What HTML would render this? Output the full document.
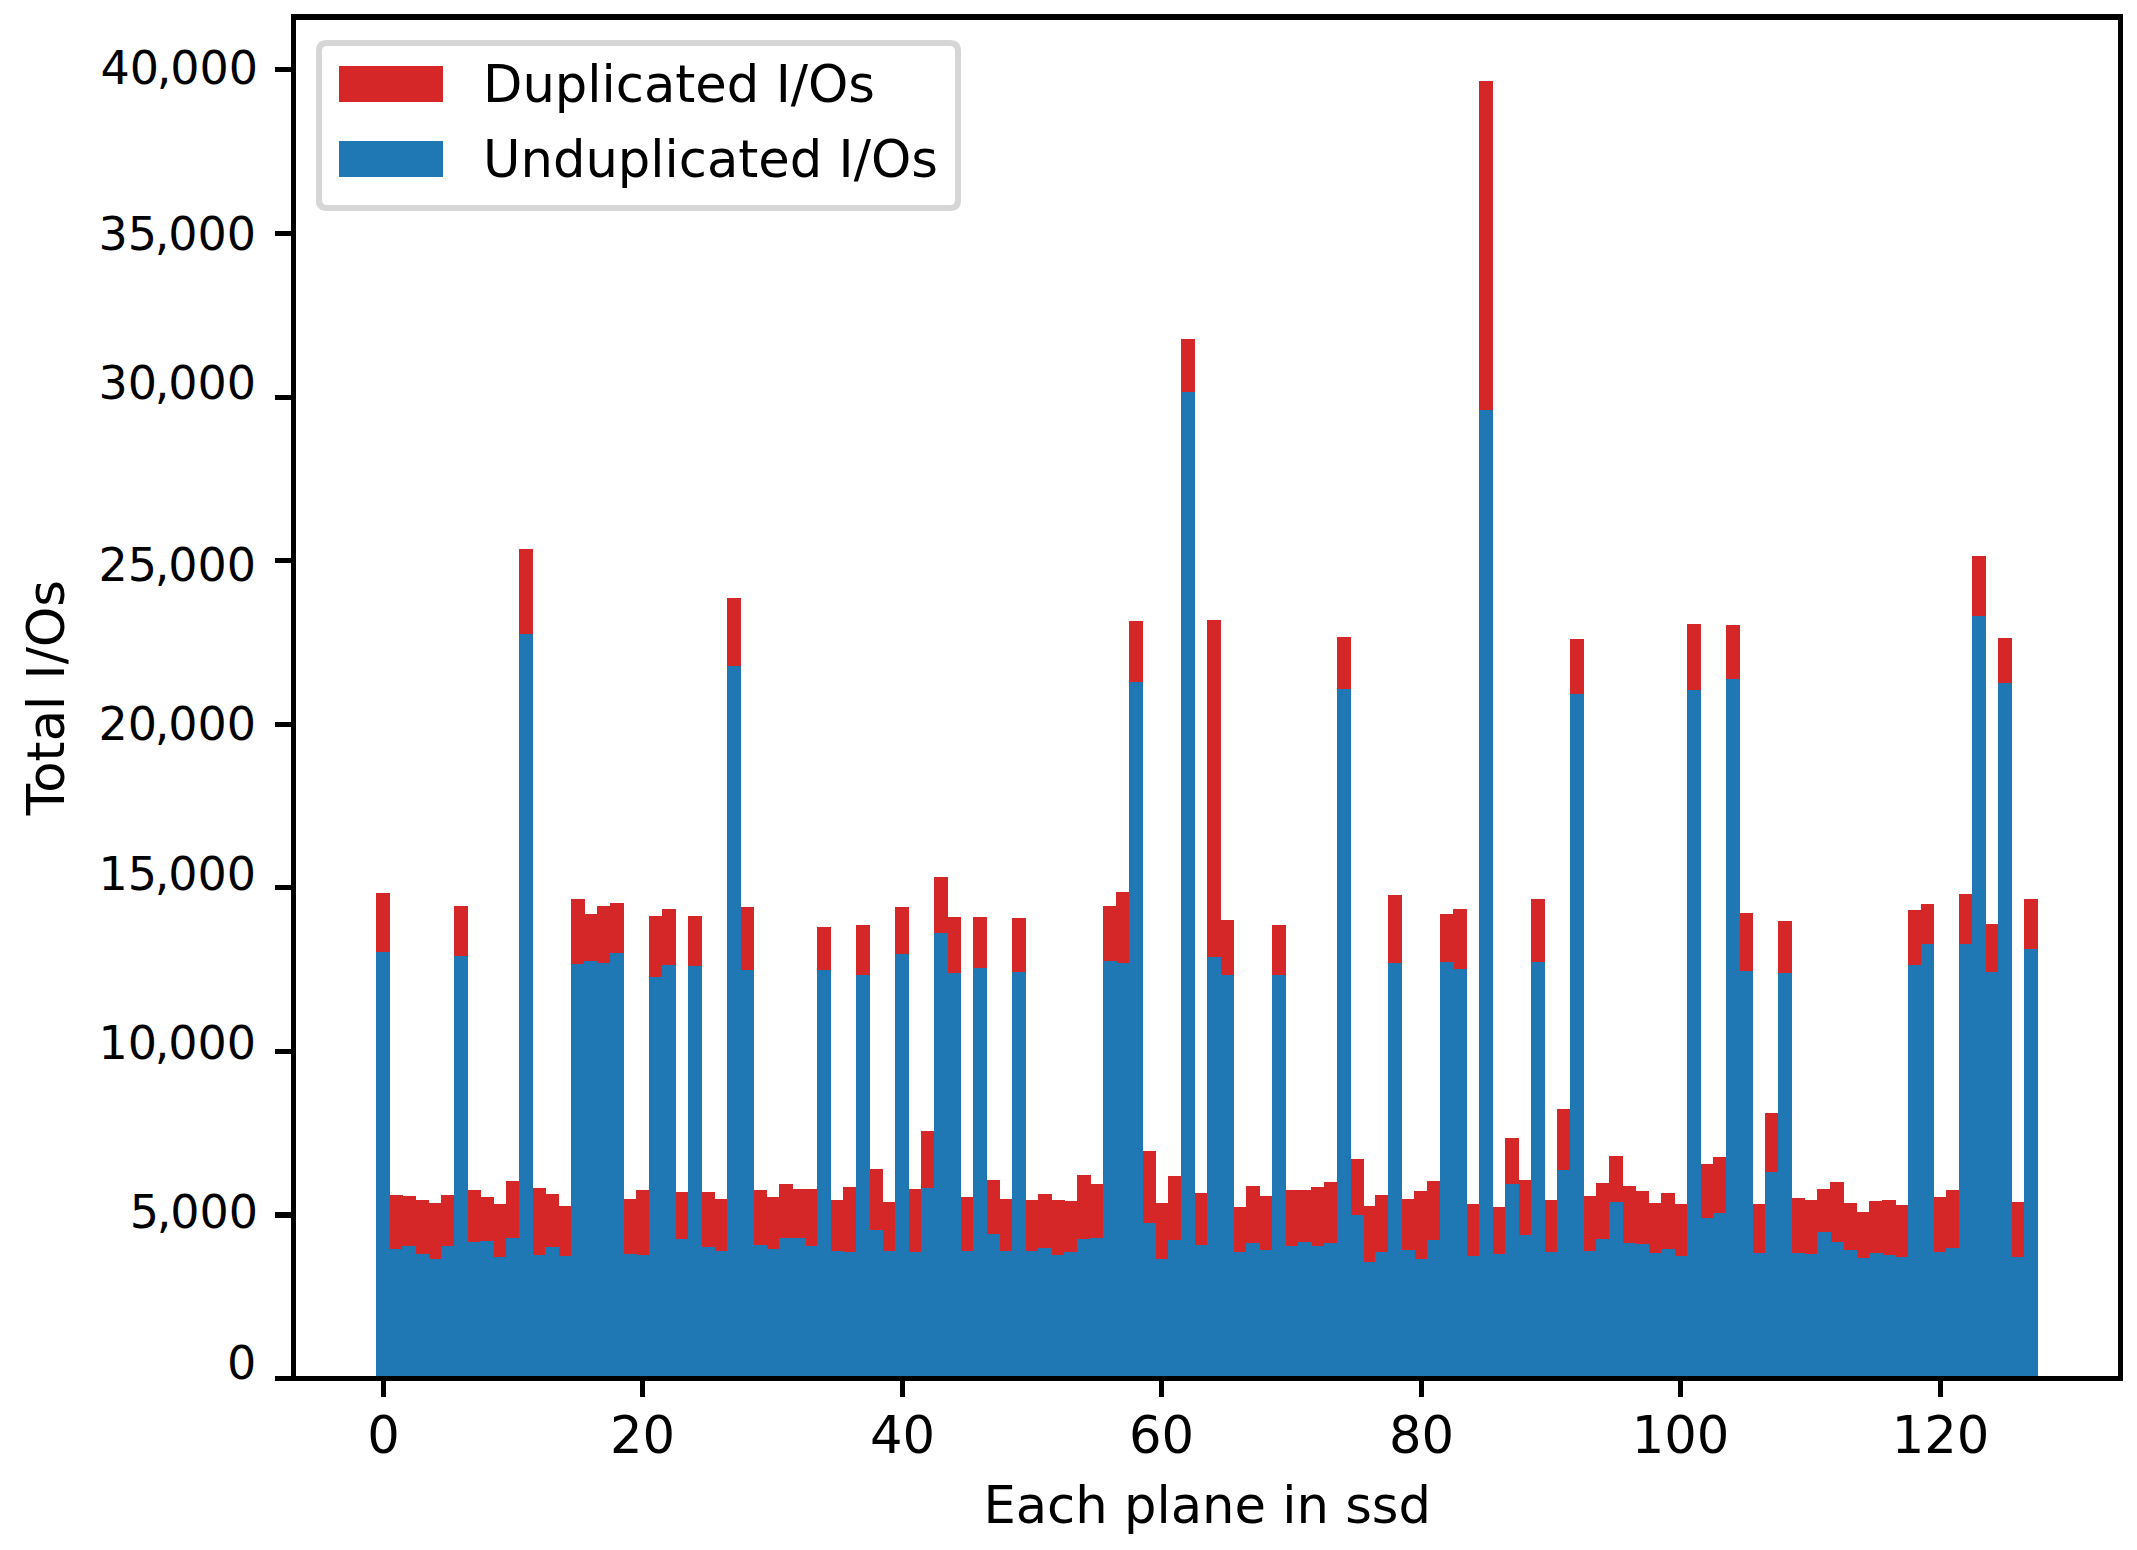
<!DOCTYPE html>
<html><head><meta charset="utf-8"><title>Total I/Os per plane</title>
<style>html,body{margin:0;padding:0;background:#fff}svg{display:block}text{font-family:"DejaVu Sans","Liberation Sans",sans-serif;fill:#000}</style>
</head><body>
<svg width="2137" height="1550" viewBox="0 0 2137 1550">
<rect width="2137" height="1550" fill="#fff"/>
<path d="M376 893 L390 893 L390 1195 L403 1195 L403 1196 L416 1196 L416 1200 L429 1200 L429 1203 L441 1203 L441 1195 L454 1195 L454 906 L468 906 L468 1190 L481 1190 L481 1197 L494 1197 L494 1204 L506 1204 L506 1181 L519 1181 L519 549 L533 549 L533 1188 L546 1188 L546 1194 L559 1194 L559 1206 L571 1206 L571 899 L585 899 L585 914 L597 914 L597 906 L610 906 L610 903 L624 903 L624 1199 L636 1199 L636 1190 L649 1190 L649 916 L662 916 L662 909 L676 909 L676 1192 L688 1192 L688 916 L702 916 L702 1192 L715 1192 L715 1199 L727 1199 L727 598 L741 598 L741 907 L754 907 L754 1190 L767 1190 L767 1197 L779 1197 L779 1184 L793 1184 L793 1189 L805 1189 L817 1189 L817 927 L831 927 L831 1200 L843 1200 L843 1187 L856 1187 L856 925 L870 925 L870 1169 L883 1169 L883 1202 L895 1202 L895 907 L909 907 L909 1189 L921 1189 L921 1131 L934 1131 L934 877 L948 877 L948 917 L961 917 L961 1197 L973 1197 L973 917 L987 917 L987 1180 L1000 1180 L1000 1199 L1012 1199 L1012 918 L1026 918 L1026 1200 L1038 1200 L1038 1194 L1052 1194 L1052 1200 L1065 1200 L1065 1201 L1077 1201 L1077 1175 L1091 1175 L1091 1184 L1103 1184 L1103 906 L1116 906 L1116 892 L1129 892 L1129 621 L1143 621 L1143 1151 L1156 1151 L1156 1203 L1168 1203 L1168 1176 L1181 1176 L1181 339 L1195 339 L1195 1193 L1207 1193 L1207 620 L1221 620 L1221 920 L1234 920 L1234 1207 L1246 1207 L1246 1186 L1260 1186 L1260 1196 L1272 1196 L1272 925 L1286 925 L1286 1190 L1298 1190 L1311 1190 L1311 1187 L1324 1187 L1324 1182 L1337 1182 L1337 637 L1351 637 L1351 1159 L1364 1159 L1364 1206 L1375 1206 L1375 1195 L1388 1195 L1388 895 L1402 895 L1402 1199 L1414 1199 L1414 1191 L1427 1191 L1427 1181 L1440 1181 L1440 914 L1453 914 L1453 909 L1467 909 L1467 1204 L1479 1204 L1479 81 L1493 81 L1493 1207 L1505 1207 L1505 1138 L1519 1138 L1519 1180 L1531 1180 L1531 899 L1545 899 L1545 1200 L1557 1200 L1557 1109 L1570 1109 L1570 639 L1584 639 L1584 1196 L1596 1196 L1596 1183 L1609 1183 L1609 1156 L1623 1156 L1623 1186 L1636 1186 L1636 1191 L1649 1191 L1649 1203 L1661 1203 L1661 1193 L1675 1193 L1675 1204 L1687 1204 L1687 624 L1701 624 L1701 1164 L1713 1164 L1713 1157 L1726 1157 L1726 625 L1740 625 L1740 913 L1753 913 L1753 1204 L1765 1204 L1765 1113 L1778 1113 L1778 921 L1792 921 L1792 1198 L1805 1198 L1805 1200 L1817 1200 L1817 1189 L1830 1189 L1830 1182 L1844 1182 L1844 1203 L1857 1203 L1857 1212 L1869 1212 L1869 1201 L1882 1201 L1882 1200 L1896 1200 L1896 1205 L1908 1205 L1908 910 L1921 910 L1921 904 L1934 904 L1934 1197 L1946 1197 L1946 1190 L1959 1190 L1959 894 L1972 894 L1972 556 L1986 556 L1986 924 L1998 924 L1998 638 L2012 638 L2012 1202 L2024 1202 L2024 899 L2038 899 L2038 950 L2024 950 L2024 1258 L2012 1258 L2012 684 L1998 684 L1998 973 L1986 973 L1986 617 L1972 617 L1972 945 L1959 945 L1959 1249 L1946 1249 L1946 1253 L1934 1253 L1934 945 L1921 945 L1921 966 L1908 966 L1908 1258 L1896 1258 L1896 1256 L1882 1256 L1882 1254 L1869 1254 L1869 1259 L1857 1259 L1857 1251 L1844 1251 L1844 1243 L1830 1243 L1830 1233 L1817 1233 L1817 1255 L1805 1255 L1805 1254 L1792 1254 L1792 974 L1778 974 L1778 1173 L1765 1173 L1765 1254 L1753 1254 L1753 972 L1740 972 L1740 680 L1726 680 L1726 1214 L1713 1214 L1713 1219 L1701 1219 L1701 691 L1687 691 L1687 1257 L1675 1257 L1675 1250 L1661 1250 L1661 1254 L1649 1254 L1649 1245 L1636 1245 L1636 1244 L1623 1244 L1623 1203 L1609 1203 L1609 1240 L1596 1240 L1596 1252 L1584 1252 L1584 695 L1570 695 L1570 1171 L1557 1171 L1557 1253 L1545 1253 L1545 963 L1531 963 L1531 1236 L1519 1236 L1519 1185 L1505 1185 L1505 1255 L1493 1255 L1493 411 L1479 411 L1479 1257 L1467 1257 L1467 970 L1453 970 L1453 963 L1440 963 L1440 1241 L1427 1241 L1427 1260 L1414 1260 L1414 1251 L1402 1251 L1402 964 L1388 964 L1388 1253 L1375 1253 L1375 1263 L1364 1263 L1364 1216 L1351 1216 L1351 690 L1337 690 L1337 1244 L1324 1244 L1324 1247 L1311 1247 L1311 1243 L1298 1243 L1298 1247 L1286 1247 L1286 976 L1272 976 L1272 1251 L1260 1251 L1260 1244 L1246 1244 L1246 1253 L1234 1253 L1234 976 L1221 976 L1221 958 L1207 958 L1207 1246 L1195 1246 L1195 393 L1181 393 L1181 1241 L1168 1241 L1168 1260 L1156 1260 L1156 1224 L1143 1224 L1143 683 L1129 683 L1129 964 L1116 964 L1116 962 L1103 962 L1103 1239 L1091 1239 L1091 1240 L1077 1240 L1077 1253 L1065 1253 L1065 1256 L1052 1256 L1052 1249 L1038 1249 L1038 1252 L1026 1252 L1026 973 L1012 973 L1012 1252 L1000 1252 L1000 1235 L987 1235 L987 969 L973 969 L973 1252 L961 1252 L961 974 L948 974 L948 934 L934 934 L934 1189 L921 1189 L921 1253 L909 1253 L909 955 L895 955 L895 1252 L883 1252 L883 1231 L870 1231 L870 976 L856 976 L856 1253 L843 1253 L843 1252 L831 1252 L831 971 L817 971 L817 1247 L805 1247 L805 1239 L793 1239 L779 1239 L779 1250 L767 1250 L767 1246 L754 1246 L754 971 L741 971 L741 667 L727 667 L727 1252 L715 1252 L715 1248 L702 1248 L702 967 L688 967 L688 1240 L676 1240 L676 966 L662 966 L662 978 L649 978 L649 1256 L636 1256 L636 1255 L624 1255 L624 954 L610 954 L610 964 L597 964 L597 962 L585 962 L585 965 L571 965 L571 1257 L559 1257 L559 1248 L546 1248 L546 1256 L533 1256 L533 635 L519 635 L519 1239 L506 1239 L506 1258 L494 1258 L494 1242 L481 1242 L481 1243 L468 1243 L468 957 L454 957 L454 1247 L441 1247 L441 1260 L429 1260 L429 1255 L416 1255 L416 1247 L403 1247 L403 1250 L390 1250 L390 953 L376 953Z" fill="#d62728"/>
<path d="M376 1379 L376 952 L390 952 L390 1249 L402 1249 L402 1246 L416 1246 L416 1254 L429 1254 L429 1259 L441 1259 L441 1246 L454 1246 L454 956 L468 956 L468 1242 L480 1242 L480 1241 L494 1241 L494 1257 L506 1257 L506 1238 L519 1238 L519 634 L533 634 L533 1255 L545 1255 L545 1247 L559 1247 L559 1256 L571 1256 L571 964 L584 964 L584 961 L598 961 L598 963 L610 963 L610 953 L624 953 L624 1254 L637 1254 L637 1255 L649 1255 L649 977 L662 977 L662 965 L676 965 L676 1239 L688 1239 L688 966 L702 966 L702 1247 L715 1247 L715 1251 L727 1251 L727 666 L741 666 L741 970 L754 970 L754 1245 L767 1245 L767 1249 L779 1249 L779 1238 L792 1238 L806 1238 L806 1246 L817 1246 L817 970 L831 970 L831 1251 L844 1251 L844 1252 L856 1252 L856 975 L870 975 L870 1230 L883 1230 L883 1251 L895 1251 L895 954 L909 954 L909 1252 L921 1252 L921 1188 L934 1188 L934 933 L948 933 L948 973 L961 973 L961 1251 L973 1251 L973 968 L987 968 L987 1234 L1000 1234 L1000 1251 L1012 1251 L1012 972 L1026 972 L1026 1251 L1038 1251 L1038 1248 L1052 1248 L1052 1255 L1064 1255 L1064 1252 L1077 1252 L1077 1239 L1090 1239 L1090 1238 L1103 1238 L1103 961 L1117 961 L1117 963 L1129 963 L1129 682 L1143 682 L1143 1223 L1156 1223 L1156 1259 L1168 1259 L1168 1240 L1181 1240 L1181 392 L1195 392 L1195 1245 L1207 1245 L1207 957 L1221 957 L1221 975 L1234 975 L1234 1252 L1246 1252 L1246 1243 L1260 1243 L1260 1250 L1272 1250 L1272 975 L1286 975 L1286 1246 L1298 1246 L1298 1242 L1312 1242 L1312 1246 L1324 1246 L1324 1243 L1337 1243 L1337 689 L1351 689 L1351 1215 L1364 1215 L1364 1262 L1375 1262 L1375 1252 L1388 1252 L1388 963 L1402 963 L1402 1250 L1415 1250 L1415 1259 L1427 1259 L1427 1240 L1440 1240 L1440 962 L1454 962 L1454 969 L1467 969 L1467 1256 L1479 1256 L1479 410 L1493 410 L1493 1254 L1505 1254 L1505 1184 L1519 1184 L1519 1235 L1531 1235 L1531 962 L1545 962 L1545 1252 L1557 1252 L1557 1170 L1570 1170 L1570 694 L1584 694 L1584 1251 L1596 1251 L1596 1239 L1609 1239 L1609 1202 L1623 1202 L1623 1243 L1636 1243 L1636 1244 L1649 1244 L1649 1253 L1661 1253 L1661 1249 L1675 1249 L1675 1256 L1687 1256 L1687 690 L1701 690 L1701 1218 L1713 1218 L1713 1213 L1726 1213 L1726 679 L1740 679 L1740 971 L1753 971 L1753 1253 L1765 1253 L1765 1172 L1778 1172 L1778 973 L1792 973 L1792 1253 L1805 1253 L1805 1254 L1817 1254 L1817 1232 L1831 1232 L1831 1242 L1844 1242 L1844 1250 L1857 1250 L1857 1258 L1869 1258 L1869 1253 L1883 1253 L1883 1255 L1896 1255 L1896 1257 L1908 1257 L1908 965 L1921 965 L1921 944 L1934 944 L1934 1252 L1946 1252 L1946 1248 L1959 1248 L1959 944 L1972 944 L1972 616 L1986 616 L1986 972 L1998 972 L1998 683 L2012 683 L2012 1257 L2024 1257 L2024 949 L2038 949 L2038 1379Z" fill="#1f77b4"/>
<rect x="381" y="1380" width="5" height="17" fill="#000"/>
<rect x="640" y="1380" width="5" height="17" fill="#000"/>
<rect x="900" y="1380" width="5" height="17" fill="#000"/>
<rect x="1159" y="1380" width="5" height="17" fill="#000"/>
<rect x="1419" y="1380" width="5" height="17" fill="#000"/>
<rect x="1678" y="1380" width="5" height="17" fill="#000"/>
<rect x="1938" y="1380" width="5" height="17" fill="#000"/>
<rect x="275" y="1376" width="17" height="5" fill="#000"/>
<rect x="275" y="1212" width="17" height="6" fill="#000"/>
<rect x="275" y="1049" width="17" height="5" fill="#000"/>
<rect x="275" y="885" width="17" height="5" fill="#000"/>
<rect x="275" y="722" width="17" height="5" fill="#000"/>
<rect x="275" y="558" width="17" height="5" fill="#000"/>
<rect x="275" y="395" width="17" height="5" fill="#000"/>
<rect x="275" y="231" width="17" height="5" fill="#000"/>
<rect x="275" y="67" width="17" height="5" fill="#000"/>
<rect x="291" y="14" width="5" height="1367" fill="#000"/>
<rect x="2118" y="14" width="5" height="1367" fill="#000"/>
<rect x="291" y="14" width="1832" height="6" fill="#000"/>
<rect x="291" y="1376" width="1832" height="5" fill="#000"/>
<text x="383.5" y="1453.2" font-size="51.2" text-anchor="middle">0</text>
<text x="642.5" y="1453.2" font-size="51.2" text-anchor="middle">20</text>
<text x="902.5" y="1453.2" font-size="51.2" text-anchor="middle">40</text>
<text x="1161.5" y="1453.2" font-size="51.2" text-anchor="middle">60</text>
<text x="1421.5" y="1453.2" font-size="51.2" text-anchor="middle">80</text>
<text x="1680.5" y="1453.2" font-size="51.2" text-anchor="middle">100</text>
<text x="1940.5" y="1453.2" font-size="51.2" text-anchor="middle">120</text>
<text x="256.2" y="1379" font-size="46" text-anchor="end">0</text>
<text x="258" y="1228" font-size="46" text-anchor="end">5<tspan dx="-2.3">,</tspan><tspan dx="-1.1">000</tspan></text>
<text x="256" y="1059" font-size="46" text-anchor="end">10<tspan dx="-2.3">,</tspan><tspan dx="-1.1">000</tspan></text>
<text x="256" y="890" font-size="46" text-anchor="end">15<tspan dx="-2.3">,</tspan><tspan dx="-1.1">000</tspan></text>
<text x="256" y="740" font-size="46" text-anchor="end">20<tspan dx="-2.3">,</tspan><tspan dx="-1.1">000</tspan></text>
<text x="256" y="581" font-size="46" text-anchor="end">25<tspan dx="-2.3">,</tspan><tspan dx="-1.1">000</tspan></text>
<text x="256" y="399" font-size="46" text-anchor="end">30<tspan dx="-2.3">,</tspan><tspan dx="-1.1">000</tspan></text>
<text x="256" y="250" font-size="46" text-anchor="end">35<tspan dx="-2.3">,</tspan><tspan dx="-1.1">000</tspan></text>
<text x="258" y="84" font-size="46" text-anchor="end">40<tspan dx="-2.3">,</tspan><tspan dx="-1.1">000</tspan></text>
<text x="1207.2" y="1522.7" font-size="51.2" text-anchor="middle">Each plane in ssd</text>
<text transform="translate(63.9 697.7) rotate(-90)" font-size="51.2" text-anchor="middle">Total I/Os</text>
<path d="M327 43 L950 43 Q958 43 958 51 L958 200 Q958 208 950 208 L327 208 Q319 208 319 200 L319 51 Q319 43 327 43Z" fill="#fff" stroke="#d6d6d6" stroke-width="6"/>
<rect x="339" y="66" width="104" height="36" fill="#d62728"/>
<rect x="339" y="141" width="104" height="36" fill="#1f77b4"/>
<text x="483" y="102" font-size="51.2">Duplicated I/Os</text>
<text x="483" y="177" font-size="51.2">Unduplicated I/Os</text>
</svg>
</body></html>
